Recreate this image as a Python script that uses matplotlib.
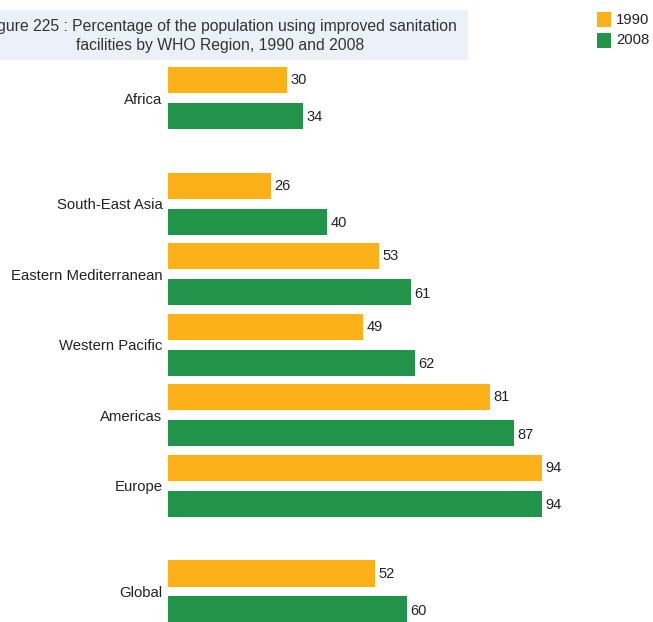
import matplotlib
matplotlib.use("Agg")
import matplotlib.pyplot as plt
from matplotlib.patches import Rectangle

categories = ["Africa", "South-East Asia", "Eastern Mediterranean", "Western Pacific",
              "Americas", "Europe", "Global"]
positions = [0, 1.5, 2.5, 3.5, 4.5, 5.5, 7]
values_1990 = [30, 26, 53, 49, 81, 94, 52]
values_2008 = [34, 40, 61, 62, 87, 94, 60]
series_labels = ["1990", "2008"]
title = "Figure 225 : Percentage of the population using improved sanitation\nfacilities by WHO Region, 1990 and 2008"

c1990 = "#FDB119"
c2008 = "#21944A"

plt.rcParams['font.family'] = ['Liberation Sans', 'DejaVu Sans']

W, H = 653, 622
fig = plt.figure(figsize=(W / 100, H / 100), dpi=100)

# Title box
fig.patches.append(Rectangle((0, 1 - 60 / H), 468 / W, 50 / H, transform=fig.transFigure,
                             facecolor="#EAF1F9", edgecolor="none", zorder=0))
fig.text(220 / W, 1 - 36 / H, title, ha="center", va="center", fontsize=11.3,
         color="#333333", linespacing=1.4, multialignment="center")

ax = fig.add_axes([168 / W, 0, 398 / W, 560 / H])
ax.set_xlim(0, 100)
ax.set_ylim(7.433, -0.511)

off = 0.255
h = 0.369
y1 = [p - off for p in positions]
y2 = [p + off for p in positions]
ax.barh(y1, values_1990, height=h, color=c1990, label=series_labels[0])
ax.barh(y2, values_2008, height=h, color=c2008, label=series_labels[1])

for y, v in zip(y1, values_1990):
    ax.text(v + 0.8, y, str(v), va="center", ha="left", fontsize=10.5, color="#222222")
for y, v in zip(y2, values_2008):
    ax.text(v + 0.8, y + 0.02, str(v), va="center", ha="left", fontsize=10.5, color="#222222")

ax.set_yticks(positions)
ax.set_yticklabels(categories, fontsize=10.7, color="#222222")
ax.tick_params(axis="y", length=0, pad=4)
ax.set_xticks([])
for s in ax.spines.values():
    s.set_visible(False)

# Legend
for i, (lab, col) in enumerate(zip(series_labels, [c1990, c2008])):
    ytop = 12 + i * 21
    fig.patches.append(Rectangle((597 / W, 1 - (ytop + 15) / H), 14 / W, 15 / H,
                                 transform=fig.transFigure, facecolor=col, edgecolor="none"))
    fig.text(616 / W, 1 - (ytop + 7.5) / H, lab, ha="left", va="center", fontsize=10.7,
             color="#222222")

fig.savefig("out.png", dpi=100)
